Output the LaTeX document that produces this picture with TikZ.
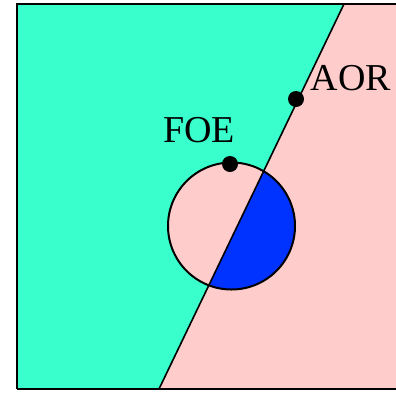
\documentclass[tikz,border=0pt]{standalone}
\usepackage{fontspec}
\setmainfont{Liberation Serif}
\usetikzlibrary{positioning,calc}
\definecolor{flGreen}{HTML}{38FFCC}
\definecolor{flPink}{HTML}{FFCCCC}
\definecolor{flBlue}{HTML}{0033FF}
\tikzset{
  frame/.style={draw=black, line width=2.5pt},
  border/.style={draw=black, line width=1.6pt},
  rim/.style={draw=black, line width=2pt},
  dot/.style={circle, fill=black, inner sep=0pt, minimum size=16pt},
  tag/.style={font=\fontsize{38}{42}\selectfont, inner sep=0pt}
}
\begin{document}
\begin{tikzpicture}[x=1pt, y=-1pt]
  \useasboundingbox (0,0) rectangle (396,392);
  \coordinate (top) at (344,4);
  \coordinate (bot) at (159,389);
  \coordinate (c) at (231.5,226);
  % two half planes
  \fill[flGreen] (17,4) -- (top) -- (bot) -- (17,389) -- cycle;
  \fill[flPink] (top) -- (399,4) -- (399,389) -- (bot) -- cycle;
  % disc, blue on the right of the line
  \fill[flPink] (c) circle[radius=63.5];
  \begin{scope}
    \clip (top) -- (399,4) -- (399,389) -- (bot) -- cycle;
    \fill[flBlue] (c) circle[radius=63.5];
  \end{scope}
  \draw[rim] (c) circle[radius=63.5];
  \draw[border] (top) -- (bot);
  \draw[frame] (17,389) -- (17,4) -- (399,4) (17,389) -- (399,389);
  % points and labels
  \node[dot] (foe) at (230,164) {};
  \node[dot] (aor) at (296,99) {};
  \node[tag] (foelbl) at (199,130) {FOE};
  \node[tag] (aorlbl) at (351,78) {AOR};
\end{tikzpicture}
\end{document}
